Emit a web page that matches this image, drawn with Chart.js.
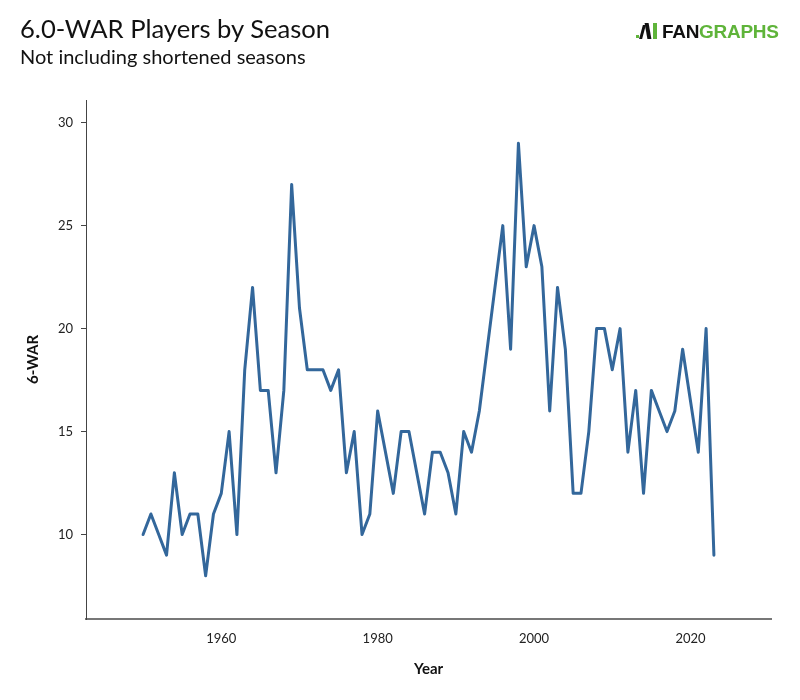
<!DOCTYPE html>
<html>
<head>
<meta charset="utf-8">
<script src="https://cdn.jsdelivr.net/npm/chart.js@4.4.1/dist/chart.umd.min.js"></script>
<style>
  html, body { margin: 0; padding: 0; background: #fff; }
  #wrap { position: relative; width: 800px; height: 700px; }
  #c { position: absolute; left: 0; top: 0; }
  .title { position: absolute; left: 20px; top: 13px; font-family: Lato, sans-serif; font-size: 25.6px; color: #111; }
  .subtitle { position: absolute; left: 20px; top: 44px; font-family: Lato, sans-serif; font-size: 20px; color: #111; }
  .logo { position: absolute; left: 636px; top: 21px; height: 22px; font-family: "Liberation Sans", Arial, sans-serif; font-weight: bold; font-size: 19px; letter-spacing: -0.3px; }
  .logo .fan { color: #111; }
  .logo .graphs { color: #5fb43a; }
  .icon { display: inline-block; position: relative; width: 26px; height: 18px; vertical-align: -2px; }
</style>
</head>
<body>
<div id="wrap">
  <canvas id="c" width="800" height="700"></canvas>
  <div class="title">6.0-WAR Players by Season</div>
  <div class="subtitle">Not including shortened seasons</div>
  <div class="logo">
    <span class="icon">
      <span style="position:absolute;left:0;top:13px;width:3px;height:3px;background:#5fb43a;"></span>
      <span style="position:absolute;left:5px;top:3px;width:3px;height:14px;background:#111;transform:skewX(-15deg);"></span>
      <span style="position:absolute;left:10px;top:1px;width:4px;height:16px;background:#111;transform:skewX(10deg);"></span>
      <span style="position:absolute;left:17px;top:1px;width:4px;height:16px;background:#5fb43a;"></span>
    </span><span class="fan">FAN</span><span class="graphs">GRAPHS</span>
  </div>
</div>
<script>
const years = [1950,1951,1952,1953,1954,1955,1956,1957,1958,1959,
  1960,1961,1962,1963,1964,1965,1966,1967,1968,1969,
  1970,1971,1972,1973,1974,1975,1976,1977,1978,1979,
  1980,1982,1983,1984,1985,1986,1987,1988,1989,1990,
  1991,1992,1993,1996,1997,1998,1999,2000,2001,2002,
  2003,2004,2005,2006,2007,2008,2009,2010,2011,2012,
  2013,2014,2015,2016,2017,2018,2019,2021,2022,2023];
const players = [10,11,10,9,13,10,11,11,8,11,
  12,15,10,18,22,17,17,13,17,27,
  21,18,18,18,17,18,13,15,10,11,
  16,12,15,15,13,11,14,14,13,11,
  15,14,16,25,19,29,23,25,23,16,
  22,19,12,12,15,20,20,18,20,14,
  17,12,17,16,15,16,19,14,20,9];
const xTicks = [1960,1980,2000,2020];
const yTicks = [10,15,20,25,30];

const points = years.map((y, i) => ({ x: y, y: players[i] }));

new Chart(document.getElementById('c'), {
  type: 'line',
  data: {
    datasets: [{
      data: points,
      borderColor: '#33679b',
      borderWidth: 3,
      borderJoinStyle: 'round',
      borderCapStyle: 'round',
      pointRadius: 0,
      tension: 0,
      fill: false
    }]
  },
  options: {
    responsive: false,
    animation: false,
    devicePixelRatio: 1,
    layout: { padding: { top: 100, right: 29, left: 0, bottom: 22 } },
    plugins: { legend: { display: false }, tooltip: { enabled: false }, title: { display: false } },
    scales: {
      x: {
        type: 'linear',
        min: 1942.7,
        max: 2030.3,
        afterBuildTicks: s => { s.ticks = xTicks.map(v => ({ value: v })); },
        afterFit: s => { s.height = 59; },
        grid: { display: false, drawOnChartArea: false, tickLength: 6, tickColor: '#777', tickWidth: 1 },
        border: { display: true, color: '#777', width: 2 },
        ticks: { color: '#222', font: { family: 'Lato', size: 13 }, padding: 6, maxRotation: 0,
          callback: v => String(v) },
        title: { display: true, text: 'Year', color: '#111', font: { family: 'Lato', size: 15, weight: 'bold' }, padding: { top: 14, bottom: 0 } }
      },
      y: {
        type: 'linear',
        min: 5.9,
        max: 31.1,
        afterBuildTicks: s => { s.ticks = yTicks.map(v => ({ value: v })); },
        afterFit: s => { s.width = 86; },
        grid: { display: true, drawOnChartArea: false, tickLength: 5, tickColor: '#444', tickWidth: 1 },
        border: { display: true, color: '#444', width: 1 },
        ticks: { color: '#222', font: { family: 'Lato', size: 13 }, padding: 8 },
        title: { display: true, text: '6-WAR', color: '#111', font: { family: 'Lato', size: 15, weight: 'bold' }, padding: { top: 24, bottom: 4 } }
      }
    }
  }
});
</script>
</body>
</html>
